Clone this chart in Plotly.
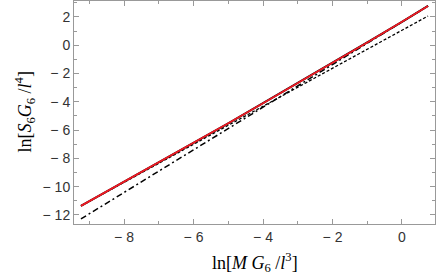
import plotly.graph_objects as go

# solid curve
curve_x = [-9.24, -8, -7, -6, -5, -4, -3, -2, -1, 0, 0.75]
curve_y = [-11.36, -9.66, -8.3, -6.92, -5.52, -4.1, -2.68, -1.25, 0.2, 1.66, 2.78]

# asymptotes, end points only
dash_x = [-9.24, 0.75]
dash_y = [-11.36, 2.07]
dashdot_x = [-9.24, 0.75]
dashdot_y = [-12.28, 2.78]

x_ticks = [-8, -6, -4, -2, 0]
y_ticks = [2, 0, -2, -4, -6, -8, -10, -12]

x_title = 'ln[<i>M G</i><sub>6</sub> /<i>l</i><sup>3</sup>]'
y_title = 'ln[<i>S</i><sub>6</sub><i>G</i><sub>6</sub> /<i>l</i><sup>4</sup>]'

fig = go.Figure()
fig.add_trace(go.Scatter(x = dashdot_x, y = dashdot_y, mode = 'lines',
                         line = dict(color = 'black', width = 1.5, dash = '6px,3px,2px,3px')))
fig.add_trace(go.Scatter(x = dash_x, y = dash_y, mode = 'lines',
                         line = dict(color = 'black', width = 1.3, dash = '3px,2px')))
fig.add_trace(go.Scatter(x = curve_x, y = curve_y, mode = 'lines',
                         line = dict(color = 'black', width = 2)))
fig.add_trace(go.Scatter(x = curve_x, y = curve_y, mode = 'lines',
                         line = dict(color = 'rgb(240, 25, 35)', width = 1.8)))

fig.update_layout(
    width = 436, height = 280,
    margin = dict(l = 74, r = 1, t = 1, b = 56),
    showlegend = False,
    plot_bgcolor = 'white', paper_bgcolor = 'white',
    font = dict(family = 'Liberation Sans', size = 14, color = '#333'),
    annotations = [
        dict(text = x_title, xref = 'paper', yref = 'paper', x = 0.5, y = -38 / 223,
             xanchor = 'center', yanchor = 'middle', showarrow = False,
             font = dict(family = 'Liberation Serif', size = 18, color = 'black')),
        dict(text = y_title, xref = 'paper', yref = 'paper', x = -49 / 361, y = 0.5,
             xanchor = 'center', yanchor = 'middle', showarrow = False, textangle = -90,
             font = dict(family = 'Liberation Serif', size = 18, color = 'black')),
    ]
)
axis_common = dict(showgrid = False, zeroline = False, showline = True, mirror = 'ticks',
                   linecolor = '#999', linewidth = 1, ticks = 'inside', ticklen = 5,
                   tickcolor = '#999', automargin = False,
                   tickfont = dict(family = 'Liberation Sans', size = 14, color = '#333'))
fig.update_xaxes(range = [-9.44, 0.95], tickvals = x_ticks,
                 ticktext = [('\u2212 ' + str(-v)) if v < 0 else str(v) for v in x_ticks],
                 minor = dict(dtick = 1, ticks = 'inside', ticklen = 3, tickcolor = '#999'),
                 **axis_common)
fig.update_yaxes(range = [-12.64, 3.13], tickvals = y_ticks,
                 ticktext = [('\u2212 ' + str(-v)) if v < 0 else str(v) for v in y_ticks],
                 minor = dict(dtick = 1, ticks = 'inside', ticklen = 3, tickcolor = '#999'),
                 **axis_common)

# page body has a default 8px margin; drop it so the figure sits at the corner
fig.write_html("out.html", config = {'displayModeBar': False},
               post_script = "document.body.style.margin = '0';")
